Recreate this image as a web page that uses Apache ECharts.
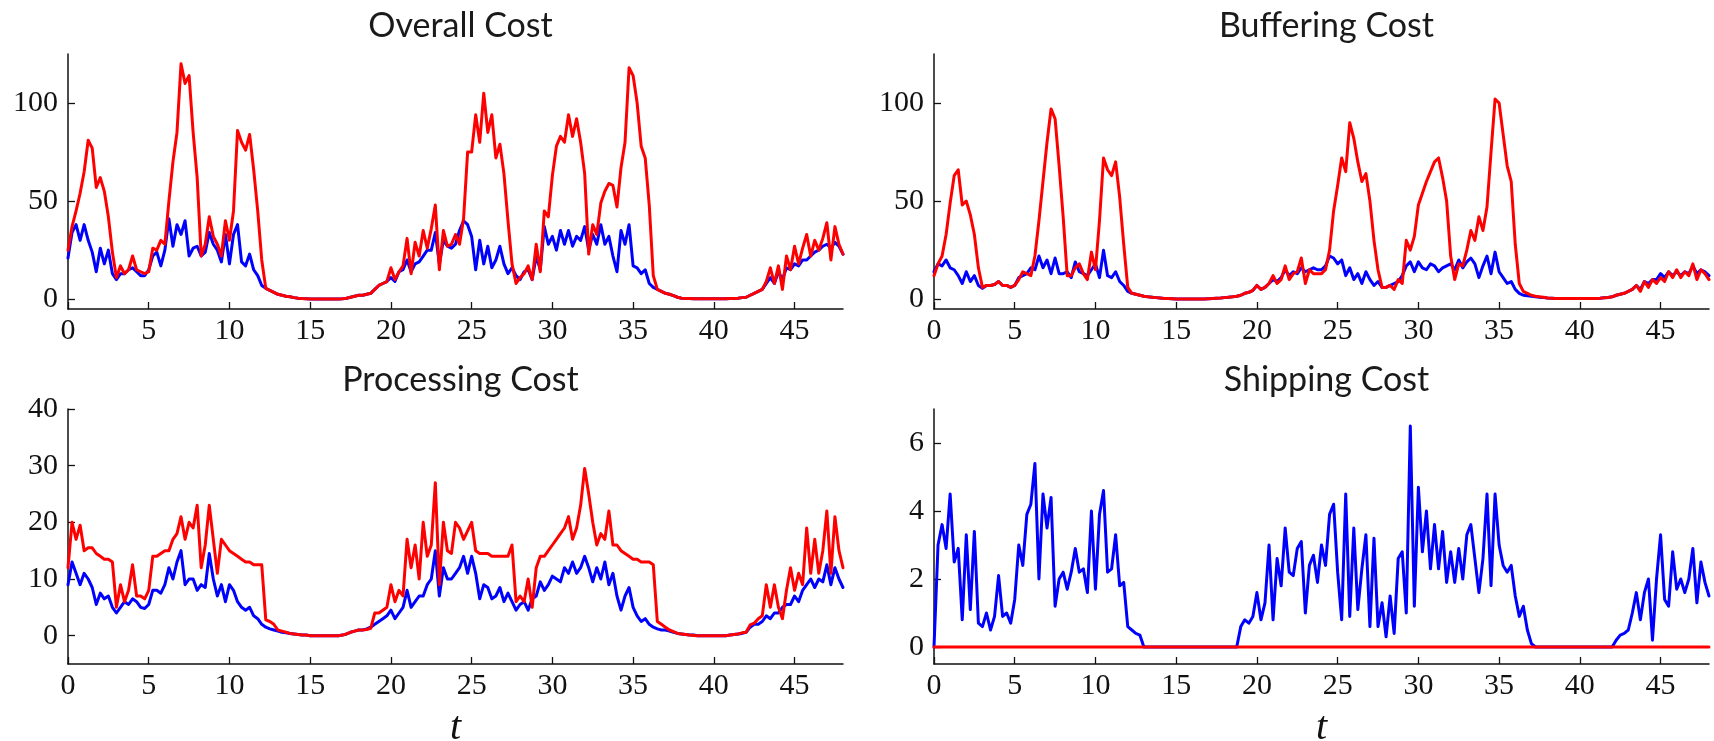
<!DOCTYPE html>
<html>
<head>
<meta charset="utf-8">
<script src="https://cdn.jsdelivr.net/npm/echarts@6/dist/echarts.min.js"></script>
<style>
html,body{margin:0;padding:0;background:#fff;}
#chart{width:1714px;height:741px;}
</style>
</head>
<body>
<div id="chart"></div>
<script>
// sampling step of every series below (hours)
const STEP = 0.25;

const panelTitles = ['Overall Cost', 'Buffering Cost', 'Processing Cost', 'Shipping Cost'];
const xTicks = [0, 5, 10, 15, 20, 25, 30, 35, 40, 45];
const yTicksCost = [0, 50, 100];
const yTicksProcessing = [0, 10, 20, 30, 40];
const yTicksShipping = [0, 2, 4, 6];

// ---------- Overall cost ----------
const overallBlue = [
  21, 34, 38, 30,   // 0
  38, 30, 24, 14,   // 1
  26, 18, 25, 13,   // 2
  10, 13, 13, 15,   // 3
  16, 14, 12, 12,   // 4
  15, 22, 24, 17,   // 5
  25, 41, 27, 38,   // 6
  33, 40, 22, 26,   // 7
  27, 22, 24, 34,   // 8
  28, 25, 19, 33,   // 9
  18, 33, 38, 19,   // 10
  17, 23, 15, 12,   // 11
  7, 5.5, 4.5, 3.5, // 12
  2.5, 2, 1.5, 1.2, // 13
  0.8, 0.5, 0.3, 0.2, // 14
  0.1, 0.1, 0.1, 0.1, // 15
  0.1, 0.1, 0.1, 0.1, // 16
  0.2, 0.5, 1, 1.5, // 17
  2, 2, 2.5, 3,     // 18
  5, 7, 8, 9,       // 19
  11, 9, 14, 15,    // 20
  20, 14, 18, 19,   // 21
  22, 25, 25, 34,   // 22
  18, 30, 27, 26,   // 23
  28, 35, 40, 38,   // 24
  32, 15, 30, 18,   // 25
  27, 16, 20, 27,   // 26
  18, 13, 16, 12,   // 27
  10, 14, 15, 10,   // 28
  22, 15, 37, 28,   // 29
  32, 25, 35, 28,   // 30
  35, 27, 32, 30,   // 31
  37, 25, 33, 28,   // 32
  38, 28, 32, 22,   // 33
  14, 35, 28, 38,   // 34
  17, 16, 13, 15,   // 35
  8, 6, 5, 4,       // 36
  3, 2.5, 1.8, 1.0, // 37
  0.5, 0.4, 0.3, 0.2, // 38
  0.2, 0.2, 0.2, 0.2, // 39
  0.2, 0.2, 0.2, 0.2, // 40
  0.3, 0.4, 0.5, 0.8, // 41
  1, 2, 3, 4,       // 42
  5, 8, 11, 8,      // 43
  14, 10, 16, 15,   // 44
  18, 17, 20, 20,   // 45
  22, 24, 25, 27,   // 46
  28, 26, 29, 27,   // 47
  23                // 48
];
const overallRed = [
  25, 37, 45, 54,   // 0
  65, 81, 77, 57,   // 1
  62, 55, 42, 24,   // 2
  11, 17, 13, 15,   // 3
  22, 15, 14, 13,   // 4
  14, 26, 25, 30,   // 5
  28, 50, 70, 85,   // 6
  120, 110, 114, 85, // 7
  62, 22, 28, 42,   // 8
  32, 28, 22, 40,   // 9
  30, 45, 86, 80,   // 10
  76, 84, 66, 45,   // 11
  20, 5.5, 4.5, 3.5, // 12
  2.5, 2, 1.5, 1.2, // 13
  0.8, 0.5, 0.3, 0.2, // 14
  0.1, 0.1, 0.1, 0.1, // 15
  0.1, 0.1, 0.1, 0.1, // 16
  0.2, 0.5, 1, 1.5, // 17
  2, 2, 2.5, 3,     // 18
  5, 7, 8, 9,       // 19
  16, 10, 14, 17,   // 20
  31, 13, 29, 22,   // 21
  35, 26, 36, 48,   // 22
  15, 35, 27, 28,   // 23
  33, 28, 41, 75,   // 24
  75, 94, 80, 105,  // 25
  85, 94, 72, 79,   // 26
  64, 40, 18, 8,    // 27
  11, 13, 17, 10,   // 28
  28, 14, 45, 42,   // 29
  63, 78, 83, 80,   // 30
  94, 83, 92, 80,   // 31
  64, 23, 38, 33,   // 32
  49, 55, 59, 58,   // 33
  47, 67, 80, 118,  // 34
  114, 100, 78, 72, // 35
  48, 12, 5, 4,     // 36
  3, 2.5, 1.8, 1.0, // 37
  0.5, 0.4, 0.3, 0.2, // 38
  0.2, 0.2, 0.2, 0.2, // 39
  0.2, 0.2, 0.2, 0.2, // 40
  0.3, 0.4, 0.5, 0.8, // 41
  1, 2, 3, 4,       // 42
  5, 9, 16, 8,      // 43
  17, 5, 22, 15,    // 44
  27, 18, 26, 33,   // 45
  22, 30, 25, 31,   // 46
  39, 20, 37, 28,   // 47
  23                // 48
];

// ---------- Buffering cost ----------
const bufferingBlue = [
  14, 18, 17, 20,   // 0
  16, 15, 12, 8,    // 1
  14, 9, 12, 7,     // 2
  5.5, 7, 7, 7.5,   // 3
  9, 7, 7, 6,       // 4
  7, 11, 12, 13,    // 5
  16, 15, 22, 16,   // 6
  20, 13, 21, 13,   // 7
  13, 14, 11, 19,   // 8
  14, 13, 12, 15,   // 9
  18, 11, 25, 12,   // 10
  11, 14, 9, 7,     // 11
  4, 3, 2.5, 2,     // 12
  1.5, 1.2, 1, 0.8, // 13
  0.6, 0.4, 0.3, 0.2, // 14
  0.1, 0.1, 0.1, 0.1, // 15
  0.1, 0.1, 0.1, 0.1, // 16
  0.2, 0.3, 0.5, 0.6, // 17
  0.8, 1, 1.2, 1.5, // 18
  2, 3, 3.5, 4.5,   // 19
  7, 5, 6, 8,       // 20
  10, 9, 11, 15,    // 21
  12, 14, 13, 16,   // 22
  14, 15, 16, 15,   // 23
  15, 17, 22, 21,   // 24
  18, 20, 12, 16,   // 25
  10, 13, 8, 14,    // 26
  10, 7, 9, 6,      // 27
  6, 7, 8, 9,       // 28
  12, 17, 19, 14,   // 29
  19, 16, 15, 18,   // 30
  17, 14, 16, 17,   // 31
  18, 15, 20, 16,   // 32
  19, 21, 18, 11,   // 33
  17, 22, 13, 24,   // 34
  14, 11, 8, 9,     // 35
  5, 3, 2, 1.7,     // 36
  1.5, 1.2, 1, 0.8, // 37
  0.6, 0.5, 0.4, 0.3, // 38
  0.3, 0.3, 0.3, 0.3, // 39
  0.3, 0.3, 0.3, 0.3, // 40
  0.4, 0.5, 0.7, 0.9, // 41
  1.2, 2, 2.5, 3,   // 42
  4, 5, 7, 5,       // 43
  9, 8, 10, 10,     // 44
  13, 11, 14, 12,   // 45
  14, 12, 14, 13,   // 46
  17, 13, 15, 14,   // 47
  12                // 48
];
const bufferingRed = [
  12, 18, 22, 33,   // 0
  49, 63, 66, 48,   // 1
  50, 43, 33, 16,   // 2
  6, 7, 7, 7.5,     // 3
  9, 7, 7, 6,       // 4
  7, 10, 14, 13,    // 5
  12, 22, 40, 60,   // 6
  80, 97, 92, 68,   // 7
  42, 12, 12, 16,   // 8
  18, 13, 10, 24,   // 9
  15, 40, 72, 66,   // 10
  63, 70, 52, 28,   // 11
  6, 3, 2.5, 2,     // 12
  1.5, 1.2, 1, 0.8, // 13
  0.6, 0.4, 0.3, 0.2, // 14
  0.1, 0.1, 0.1, 0.1, // 15
  0.1, 0.1, 0.1, 0.1, // 16
  0.2, 0.3, 0.5, 0.6, // 17
  0.8, 1, 1.2, 1.5, // 18
  2, 3, 3.5, 4.5,   // 19
  7, 5, 6, 8,       // 20
  12, 8, 10, 17,    // 21
  10, 13, 14, 21,   // 22
  8, 15, 13, 13,    // 23
  13, 15, 25, 45,   // 24
  58, 72, 65, 90,   // 25
  82, 70, 60, 64,   // 26
  50, 30, 15, 6,    // 27
  6, 7, 5, 10,      // 28
  8, 30, 25, 32,    // 29
  48, 54, 60, 65,   // 30
  70, 72, 62, 50,   // 31
  22, 10, 18, 17,   // 32
  25, 35, 30, 42,   // 33
  35, 47, 75, 102,  // 34
  100, 84, 68, 60,  // 35
  28, 8, 4, 3,      // 36
  2, 1.5, 1.2, 1,   // 37
  0.6, 0.5, 0.4, 0.3, // 38
  0.3, 0.3, 0.3, 0.3, // 39
  0.3, 0.3, 0.3, 0.3, // 40
  0.4, 0.5, 0.7, 0.9, // 41
  1.2, 2, 2.5, 3,   // 42
  4, 5, 7, 4,       // 43
  9, 6, 10, 8,      // 44
  11, 9, 14, 11,    // 45
  15, 11, 14, 12,   // 46
  18, 10, 15, 13,   // 47
  10                // 48
];

// ---------- Processing cost ----------
const processingBlue = [
  9, 13, 11, 9,     // 0
  11, 10, 8.5, 5.5, // 1
  7.5, 6.5, 7, 5,   // 2
  4, 5, 6, 5.5,     // 3
  6.5, 6, 5, 4.8,   // 4
  5.5, 8, 8, 7.5,   // 5
  9, 12, 10, 13,    // 6
  15, 9, 10, 10,    // 7
  8, 9, 8.5, 14.5,  // 8
  10, 7, 9, 6,      // 9
  9, 8, 6, 5,       // 10
  4.5, 5, 3.5, 3,   // 11
  2, 1.5, 1.2, 1,   // 12
  0.8, 0.6, 0.5, 0.4, // 13
  0.3, 0.2, 0.1, 0.1, // 14
  0, 0, 0, 0,       // 15
  0, 0, 0, 0,       // 16
  0.1, 0.3, 0.6, 0.8, // 17
  1, 1, 1.2, 1.5,   // 18
  2, 2.5, 3, 3.5,   // 19
  4.5, 3, 4, 5,     // 20
  8, 5, 6, 7,       // 21
  7, 9, 10, 15,     // 22
  7, 12, 10, 10,    // 23
  11, 12, 14, 11,   // 24
  14, 11, 6.5, 9,   // 25
  8.5, 6.5, 7, 8.5, // 26
  6, 7.5, 6, 4.5,   // 27
  5.5, 6, 4.5, 6.5, // 28
  7, 9.5, 8, 9,     // 29
  10.5, 10, 9.5, 12, // 30
  11, 13, 11, 12,   // 31
  14, 12, 9.5, 12,  // 32
  10, 13, 9, 11,    // 33
  7, 4.5, 7, 8.5,   // 34
  5, 3.5, 2.5, 3,   // 35
  2, 1.5, 1.2, 1,   // 36
  1, 0.8, 0.6, 0.4, // 37
  0.3, 0.2, 0.1, 0.1, // 38
  0, 0, 0, 0,       // 39
  0, 0, 0, 0,       // 40
  0.1, 0.2, 0.3, 0.4, // 41
  0.6, 1.5, 2, 2,   // 42
  2.5, 3.5, 3, 4,   // 43
  4, 5, 5.5, 5.5,   // 44
  7, 6, 8, 9,       // 45
  10, 8.5, 10, 9.5, // 46
  12.5, 9, 12, 10,  // 47
  8.5               // 48
];
const processingRed = [
  12, 20, 17, 19.5, // 0
  15, 15.5, 15.5, 14.5, // 1
  14, 13.5, 13.5, 13, // 2
  5, 9, 6, 8,       // 3
  12.5, 7, 7, 6.5,  // 4
  8, 14, 14, 14.5,  // 5
  15, 15, 17, 18,   // 6
  21, 17, 20, 19,   // 7
  23, 12, 16, 23,   // 8
  17, 11, 17, 16,   // 9
  15, 14.5, 14, 13.5, // 10
  13, 13, 12.5, 12.5, // 11
  12.5, 2.8, 2.5, 2, // 12
  1, 0.8, 0.6, 0.4, // 13
  0.3, 0.2, 0.1, 0.1, // 14
  0, 0, 0, 0,       // 15
  0, 0, 0, 0,       // 16
  0.1, 0.3, 0.6, 0.8, // 17
  1, 1, 1.1, 1.3,   // 18
  4, 4, 4.5, 5,     // 19
  9, 6, 8, 7,       // 20
  17, 12, 16, 10,   // 21
  20, 14, 16, 27,   // 22
  9, 20, 15, 14.5,  // 23
  20, 19, 17, 18.5, // 24
  20, 15, 14.5, 14.5, // 25
  14.5, 14, 14, 14, // 26
  14, 14, 16, 6,    // 27
  7, 6, 10, 5,      // 28
  12, 14, 14, 15,   // 29
  16, 17, 18, 19,   // 30
  21, 17, 19, 23,   // 31
  29.5, 25, 20, 16, // 32
  18, 17, 22, 16,   // 33
  16, 15, 14.5, 14, // 34
  13.5, 13.5, 13, 13, // 35
  13, 12.5, 2.5, 2, // 36
  1.5, 1.0, 0.7, 0.4, // 37
  0.3, 0.2, 0.1, 0.05, // 38
  0, 0, 0, 0,       // 39
  0, 0, 0, 0,       // 40
  0.1, 0.2, 0.3, 0.5, // 41
  0.6, 1.9, 2.2, 3, // 42
  3.5, 9, 5, 9,     // 43
  5, 3, 8, 12,      // 44
  8, 11, 9, 19,     // 45
  11, 17, 11, 15,   // 46
  22, 11, 21, 15,   // 47
  12                // 48
];

// ---------- Shipping cost ----------
const shippingBlue = [
  0, 3.0, 3.6, 2.9, // 0
  4.5, 2.5, 2.9, 0.8, // 1
  3.3, 1.1, 3.4, 0.7, // 2
  0.6, 1.0, 0.5, 0.9, // 3
  2.1, 0.9, 1.0, 0.7, // 4
  1.4, 3.0, 2.4, 3.9, // 5
  4.2, 5.4, 2.0, 4.5, // 6
  3.5, 4.4, 1.2, 2.0, // 7
  2.2, 1.7, 2.2, 2.9, // 8
  2.2, 2.3, 1.6, 4.0, // 9
  1.7, 3.9, 4.6, 2.2, // 10
  2.3, 3.3, 1.8, 1.9, // 11
  0.6, 0.5, 0.4, 0.35, // 12
  0, 0, 0, 0,       // 13
  0, 0, 0, 0,       // 14
  0, 0, 0, 0,       // 15
  0, 0, 0, 0,       // 16
  0, 0, 0, 0,       // 17
  0, 0, 0, 0,       // 18
  0.6, 0.8, 0.7, 0.9, // 19
  1.6, 0.8, 1.3, 3.0, // 20
  0.8, 2.6, 1.8, 3.5, // 21
  2.2, 2.1, 2.9, 3.1, // 22
  1.0, 2.4, 2.7, 1.9, // 23
  3.0, 2.4, 3.9, 4.2, // 24
  2.2, 0.8, 4.5, 0.9, // 25
  3.5, 1.1, 2.3, 3.3, // 26
  0.6, 3.2, 0.6, 1.3, // 27
  0.3, 1.5, 0.4, 2.6, // 28
  2.8, 1.0, 6.5, 1.2, // 29
  4.7, 2.8, 4.0, 2.3, // 30
  3.6, 2.3, 3.4, 1.9, // 31
  2.8, 1.9, 2.9, 2.0, // 32
  3.3, 3.6, 2.6, 1.6, // 33
  2.6, 4.5, 1.8, 4.5, // 34
  3.0, 2.4, 2.2, 2.4, // 35
  1.5, 0.9, 1.2, 0.5, // 36
  0.1, 0, 0, 0,     // 37
  0, 0, 0, 0,       // 38
  0, 0, 0, 0,       // 39
  0, 0, 0, 0,       // 40
  0, 0, 0, 0,       // 41
  0, 0.2, 0.35, 0.4, // 42
  0.5, 1.0, 1.6, 0.8, // 43
  1.6, 2.0, 0.2, 2.0, // 44
  3.3, 1.4, 1.2, 2.8, // 45
  1.7, 2.0, 1.6, 2.0, // 46
  2.9, 1.3, 2.5, 1.9, // 47
  1.5               // 48
];
// red shipping cost is flat at zero over the whole horizon
const shippingRedTimes = [0, 48];
const shippingRedValues = [0, 0];

// ---------- build chart ----------
function toPairs(vals) { return vals.map((v, i) => [i * STEP, v]); }

const grids = [
  { left: 68, top: 54, width: 775, height: 255 },
  { left: 934, top: 54, width: 775, height: 255 },
  { left: 68, top: 409, width: 775, height: 255 },
  { left: 934, top: 409, width: 775, height: 255 }
];
const yRanges = [[-5, 125], [-5, 125], [-5, 40], [-0.5, 7]];
const yTickSets = [yTicksCost, yTicksCost, yTicksProcessing, yTicksShipping];
const titleTops = [4, 4, 358, 358];

const AX = '#111';
const labelFont = { fontFamily: 'Liberation Serif', fontSize: 30, color: '#111' };

const xAxes = grids.map((g, i) => ({
  type: 'value', gridIndex: i, min: 0, max: 48,
  axisLine: { show: true, onZero: false, lineStyle: { color: AX, width: 1.5 } },
  axisTick: { show: true, inside: true, length: 7, customValues: xTicks, lineStyle: { color: AX, width: 1.3 } },
  axisLabel: Object.assign({ margin: 7, customValues: xTicks }, labelFont),
  splitLine: { show: false },
  name: i >= 2 ? 't' : '',
  nameLocation: 'middle',
  nameGap: 44,
  nameTextStyle: { fontFamily: 'Liberation Serif', fontStyle: 'italic', fontSize: 40, color: '#111' }
}));
const yAxes = grids.map((g, i) => ({
  type: 'value', gridIndex: i, min: yRanges[i][0], max: yRanges[i][1],
  axisLine: { show: true, onZero: false, lineStyle: { color: AX, width: 1.5 } },
  axisTick: { show: true, inside: true, length: 7, customValues: yTickSets[i], lineStyle: { color: AX, width: 1.3 } },
  axisLabel: Object.assign({ margin: 10, customValues: yTickSets[i] }, labelFont),
  splitLine: { show: false }
}));

function line(data, idx, color, z) {
  return {
    type: 'line', xAxisIndex: idx, yAxisIndex: idx, data: data,
    showSymbol: false, symbol: 'none', silent: true, z: z,
    lineStyle: { color: color, width: 3, join: 'round', cap: 'round' },
    itemStyle: { color: color }
  };
}

const BLUE = '#0000ff', RED = '#ff0000';
const series = [
  line(toPairs(overallBlue), 0, BLUE, 2),
  line(toPairs(overallRed), 0, RED, 3),
  line(toPairs(bufferingBlue), 1, BLUE, 2),
  line(toPairs(bufferingRed), 1, RED, 3),
  line(toPairs(processingBlue), 2, BLUE, 2),
  line(toPairs(processingRed), 2, RED, 3),
  line(toPairs(shippingBlue), 3, BLUE, 2),
  line(shippingRedTimes.map((t, i) => [t, shippingRedValues[i]]), 3, RED, 3)
];

const titles = grids.map((g, i) => ({
  text: panelTitles[i],
  left: g.left + g.width / 2,
  top: titleTops[i],
  textAlign: 'center',
  textStyle: { fontFamily: 'Lato', fontWeight: 'normal', fontSize: 34, color: '#1a1a1a' }
}));

const chart = echarts.init(document.getElementById('chart'), null, { renderer: 'canvas' });
chart.setOption({
  animation: false,
  backgroundColor: '#ffffff',
  title: titles,
  grid: grids.map(g => Object.assign({ outerBoundsMode: 'none', containLabel: false }, g)),
  xAxis: xAxes,
  yAxis: yAxes,
  series: series
});
</script>
</body>
</html>
